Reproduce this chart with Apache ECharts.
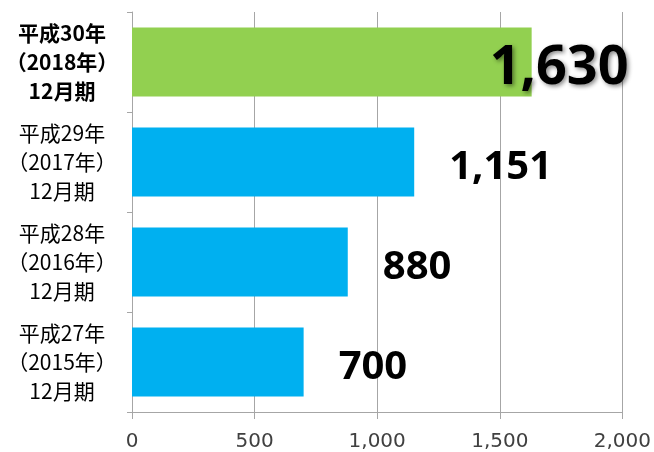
<!DOCTYPE html>
<html>
<head>
<meta charset="utf-8">
<script src="https://cdn.jsdelivr.net/npm/echarts@6/dist/echarts.min.js"></script>
<style>
  html, body { margin: 0; padding: 0; background: #fff; }
  #chart { width: 654px; height: 452px; }
</style>
</head>
<body>
<div id="chart"></div>
<script>
// periods, top to bottom
const categories = [
    '平成30年\n（2018年）\n12月期',
    '平成29年\n（2017年）\n12月期',
    '平成28年\n（2016年）\n12月期',
    '平成27年\n（2015年）\n12月期'
];
const values = [1630, 1151, 880, 700];
const barColors = ['#92D050', '#00B0F0', '#00B0F0', '#00B0F0'];
const xTicks = [0, 500, 1000, 1500, 2000];

const chart = echarts.init(document.getElementById('chart'));

const data = values.map(function (v, i) {
    const item = {
        value: v,
        itemStyle: { color: barColors[i] }
    };
    if (i === 0) {
        // the newest one is bigger, shadowed and sits over the bar end
        item.label = {
            fontSize: 54,
            offset: [-77, 7],
            textShadowColor: 'rgba(0,0,0,0.45)',
            textShadowBlur: 4,
            textShadowOffsetX: 2,
            textShadowOffsetY: 2
        };
    }
    return item;
});

const option = {
    animation: false,
    grid: { left: 132, right: 30, top: 12, bottom: 39, containLabel: false },
    xAxis: {
        type: 'value',
        min: xTicks[0],
        max: xTicks[xTicks.length - 1],
        interval: 500,
        axisLine: { show: true, lineStyle: { color: '#a6a6a6', width: 1 } },
        axisTick: { show: true, length: 7, lineStyle: { color: '#a6a6a6' } },
        splitLine: { show: true, lineStyle: { color: '#a6a6a6', width: 1 } },
        axisLabel: {
            margin: 20,
            fontSize: 20,
            color: '#404040',
            fontFamily: 'DejaVu Sans',
            formatter: function (v) { return v.toLocaleString('en-US'); }
        }
    },
    yAxis: {
        type: 'category',
        inverse: true,
        data: categories,
        axisLine: { show: true, lineStyle: { color: '#a6a6a6' } },
        axisTick: { show: true, length: 5, lineStyle: { color: '#a6a6a6' } },
        axisLabel: {
            margin: 70,
            align: 'center',
            fontSize: 21,
            lineHeight: 29,
            color: '#000',
            fontFamily: 'Noto Sans CJK JP',
            formatter: function (v, i) {
                return i === 0 ? '{b|' + v + '}' : v;
            },
            rich: {
                b: { fontSize: 21, lineHeight: 29, fontWeight: 'bold', fontFamily: 'Noto Sans CJK JP', color: '#000' }
            }
        }
    },
    series: [{
        type: 'bar',
        data: data,
        barWidth: '69%',
        label: {
            show: true,
            position: 'right',
            distance: 35,
            offset: [0, 6],
            fontSize: 40,
            fontWeight: 'bold',
            color: '#000',
            fontFamily: 'Open Sans',
            formatter: function (p) { return p.value.toLocaleString('en-US'); }
        }
    }]
};

chart.setOption(option);
</script>
</body>
</html>
